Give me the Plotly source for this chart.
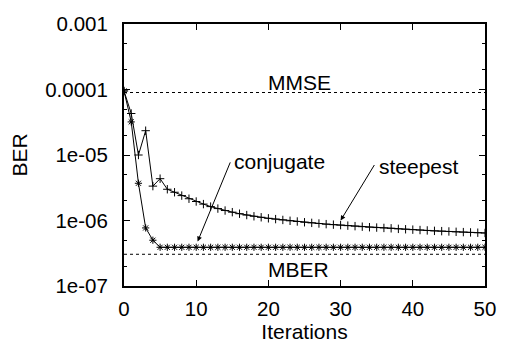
import plotly.graph_objects as go

iterations = list(range(0, 51))
steepest = [9.5e-5, 4.3e-5, 1.0e-5, 2.35e-5, 3.35e-6, 4.35e-6, 3.0e-6, 2.7e-6, 2.4e-6, 2.15e-6,
            1.95e-6, 1.78e-6, 1.63e-6, 1.52e-6, 1.42e-6, 1.34e-6, 1.27e-6, 1.21e-6, 1.16e-6, 1.12e-6,
            1.08e-6, 1.05e-6, 1.02e-6, 0.99e-6, 0.965e-6, 0.94e-6, 0.92e-6, 0.90e-6, 0.88e-6, 0.865e-6,
            0.85e-6, 0.835e-6, 0.82e-6, 0.805e-6, 0.79e-6, 0.78e-6, 0.77e-6, 0.76e-6, 0.745e-6, 0.735e-6,
            0.725e-6, 0.715e-6, 0.705e-6, 0.695e-6, 0.688e-6, 0.68e-6, 0.672e-6, 0.665e-6, 0.658e-6, 0.651e-6,
            0.645e-6]
conjugate = [9.5e-5, 3.2e-5, 3.7e-6, 7.7e-7, 5.0e-7] + [3.9e-7] * 46
mmse_ber = 9.0e-5
mber_ber = 3.05e-7

ytick_vals = [1e-7, 1e-6, 1e-5, 1e-4, 1e-3]
ytick_text = ["1e-07", "1e-06", "1e-05", "0.0001", "0.001"]
yminor_vals = [m * 10 ** e for e in range(-7, -3) for m in (2, 5)]
xtick_vals = [0, 10, 20, 30, 40, 50]

FONT = "Liberation Sans, Arial, sans-serif"

fig = go.Figure()
fig.add_trace(go.Scatter(x=[iterations[0], iterations[-1]], y=[mmse_ber, mmse_ber], mode="lines",
                         line=dict(color="black", width=1, dash="dot"), showlegend=False))
fig.add_trace(go.Scatter(x=[iterations[0], iterations[-1]], y=[mber_ber, mber_ber], mode="lines",
                         line=dict(color="black", width=1, dash="dot"), showlegend=False))
fig.add_trace(go.Scatter(x=iterations, y=steepest, mode="lines+markers",
                         line=dict(color="black", width=1),
                         marker=dict(symbol="cross-thin-open", size=6, color="black",
                                     line=dict(color="black", width=1)),
                         showlegend=False))
fig.add_trace(go.Scatter(x=iterations, y=conjugate, mode="lines+markers",
                         line=dict(color="black", width=1),
                         marker=dict(symbol="asterisk-open", size=6, color="black",
                                     line=dict(color="black", width=1)),
                         showlegend=False))

txt = dict(family=FONT, size=21, color="black")
fig.add_annotation(x=24.3, y=-3.9, text="MMSE", showarrow=False, font=txt)
fig.add_annotation(x=24.1, y=-6.75, text="MBER", showarrow=False, font=txt)
fig.add_annotation(x=15.0, y=-5.10, text="conjugate", showarrow=False, font=txt, xanchor="left")
fig.add_annotation(x=35.0, y=-5.18, text="steepest", showarrow=False, font=txt, xanchor="left")
# arrows
fig.add_annotation(x=10.2, y=-6.32, ax=14.8, ay=-5.09, axref="x", ayref="y", text="",
                   showarrow=True, arrowhead=2, arrowsize=1, arrowwidth=1, arrowcolor="black")
fig.add_annotation(x=30.0, y=-6.0, ax=34.8, ay=-5.13, axref="x", ayref="y", text="",
                   showarrow=True, arrowhead=2, arrowsize=1, arrowwidth=1, arrowcolor="black")

fig.update_layout(
    width=508, height=346,
    margin=dict(l=124, r=16, t=15, b=59),
    paper_bgcolor="white", plot_bgcolor="white",
    font=dict(family=FONT, size=21, color="black"),
)
fig.update_xaxes(range=[0, 50], tickvals=xtick_vals, ticks="inside", ticklen=6, tickcolor="black",
                 showline=True, linecolor="black", linewidth=2, mirror="ticks", showgrid=False,
                 zeroline=False, tickfont=dict(size=20.5), ticklabelstandoff=3,
                 title=dict(text="Iterations", standoff=0, font=dict(size=21)))
fig.update_yaxes(type="log", range=[-7, -3], tickvals=ytick_vals, ticktext=ytick_text,
                 ticks="inside", ticklen=6, tickcolor="black",
                 minor=dict(tickvals=yminor_vals, ticks="inside", ticklen=3, tickcolor="black"),
                 showline=True, linecolor="black", linewidth=2, mirror="ticks", showgrid=False,
                 zeroline=False, tickfont=dict(size=20.5), ticklabelstandoff=10,
                 title=dict(text="BER", standoff=12, font=dict(size=21)))

fig.write_html("out.html")
